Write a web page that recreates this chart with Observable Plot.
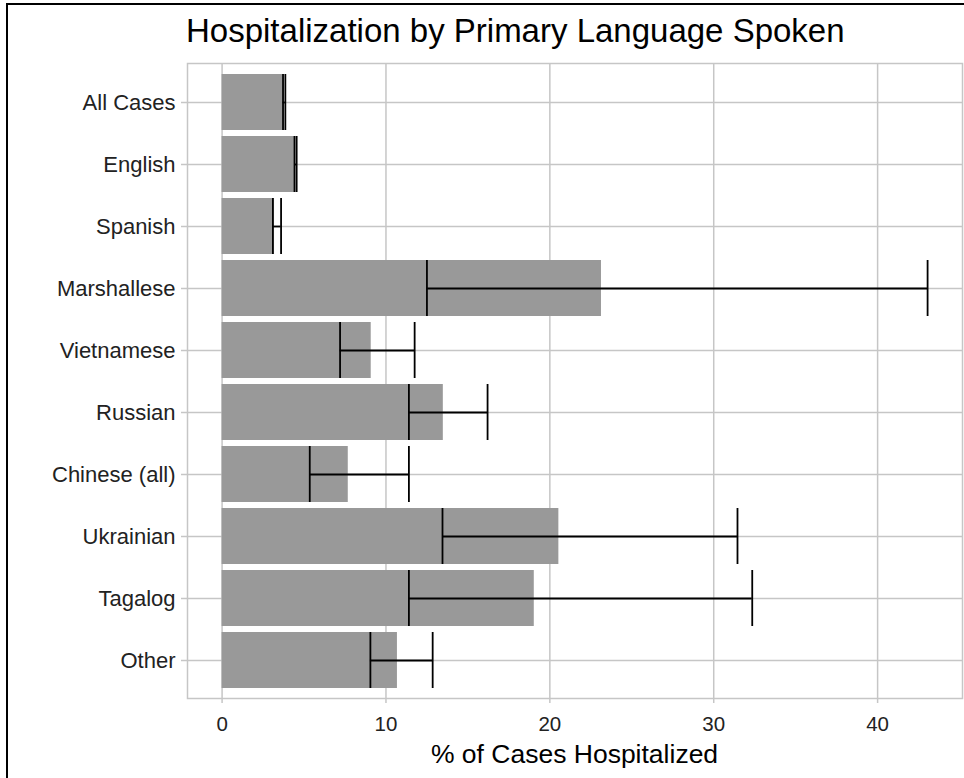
<!DOCTYPE html>
<html>
<head>
<meta charset="utf-8">
<script src="https://cdn.jsdelivr.net/npm/d3@7"></script>
<script src="https://cdn.jsdelivr.net/npm/@observablehq/plot@0.6"></script>
<style>
  body { margin: 0; background: #fff; font-family: "Liberation Sans", Arial, sans-serif; }
  #wrap { position: relative; width: 964px; height: 778px; overflow: hidden; background: #fff; }
  #frame { position: absolute; left: 6px; top: 3px; right: -10px; bottom: -10px;
           border-left: 2px solid #000; border-top: 2px solid #000; pointer-events: none; }
  #title { position: absolute; left: 186px; top: 14px; font-size: 33px; line-height: 33px;
           color: #000; white-space: nowrap; }
  #chart { position: absolute; left: 0; top: 61px; }
  #xlabel { position: absolute; left: 187px; width: 775px; top: 741px; text-align: center;
            font-size: 26.5px; line-height: 26px; color: #000; white-space: nowrap; }
</style>
</head>
<body>
<div id="wrap">
  <div id="title">Hospitalization by Primary Language Spoken</div>
  <div id="chart"></div>
  <div id="xlabel">% of Cases Hospitalized</div>
  <div id="frame"></div>
</div>
<script>
const categories = ["All Cases", "English", "Spanish", "Marshallese", "Vietnamese",
                    "Russian", "Chinese (all)", "Ukrainian", "Tagalog", "Other"];
const pctHospitalized = [3.77, 4.5, 3.2, 23.15, 9.1, 13.5, 7.7, 20.55, 19.05, 10.7];
const ciLower = [3.72, 4.42, 3.1, 12.5, 7.2, 11.4, 5.35, 13.45, 11.4, 9.05];
const ciUpper = [3.86, 4.55, 3.6, 43.05, 11.75, 16.2, 11.4, 31.45, 32.35, 12.85];
const xTicks = [0, 10, 20, 30, 40];

const data = categories.map((c, i) => ({
  cat: c, pct: pctHospitalized[i], lo: ciLower[i], hi: ciUpper[i]
}));

const gridColor = "#c6c6c6";

const chart = Plot.plot({
  width: 964,
  height: 676,
  marginLeft: 187,
  marginRight: 2,
  marginTop: 2,
  marginBottom: 39,
  style: { fontFamily: "'Liberation Sans', Arial, sans-serif", background: "transparent" },
  x: { domain: [-2.11, 45.18] },
  y: { domain: categories, type: "band", paddingInner: 0.1, paddingOuter: 0.15, align: 0.5 },
  marks: [
    Plot.gridX({ ticks: xTicks, stroke: gridColor, strokeOpacity: 1, strokeWidth: 1.5 }),
    Plot.gridY({ stroke: gridColor, strokeOpacity: 1, strokeWidth: 1.5 }),
    Plot.frame({ stroke: gridColor, strokeWidth: 1.5 }),
    Plot.barX(data, { x: "pct", y: "cat", fill: "#999999" }),
    Plot.ruleY(data, { y: "cat", x1: "lo", x2: "hi", stroke: "#000", strokeWidth: 1.8 }),
    Plot.tickX(data, { x: "lo", y: "cat", stroke: "#000", strokeWidth: 1.8 }),
    Plot.tickX(data, { x: "hi", y: "cat", stroke: "#000", strokeWidth: 1.8 }),
    Plot.axisX({ ticks: xTicks, tickSize: 5, tickPadding: 13, stroke: gridColor, strokeWidth: 1.5,
                 fill: "#222", fontSize: 20.5, label: null }),
    Plot.axisY({ tickSize: 6, tickPadding: 6, stroke: gridColor, strokeWidth: 1.5,
                 fill: "#222", fontSize: 22, label: null })
  ]
});
document.getElementById("chart").appendChild(chart);
</script>
</body>
</html>
